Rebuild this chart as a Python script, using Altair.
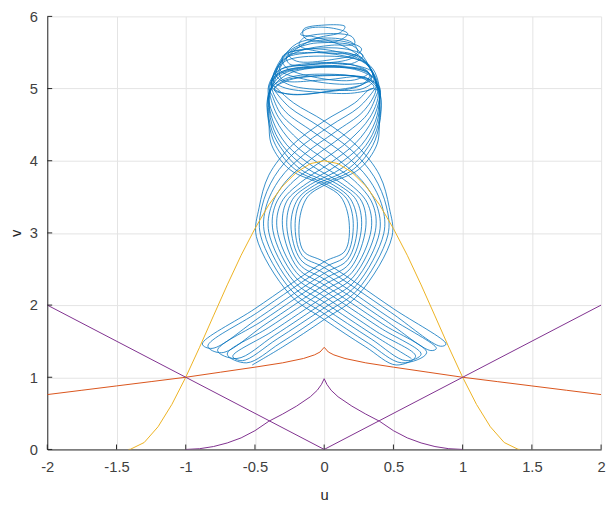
import altair as alt
import pandas as pd

# ---------------- reference curves ----------------
yellow_u = [-1.414, -1.4, -1.3, -1.2, -1.1, -1.0, -0.9, -0.8, -0.7, -0.6, -0.5, -0.4, -0.3, -0.2, -0.1, 0.0,
            0.1, 0.2, 0.3, 0.4, 0.5, 0.6, 0.7, 0.8, 0.9, 1.0, 1.1, 1.2, 1.3, 1.4, 1.414]
yellow_v = [0.0, 0.002, 0.096, 0.314, 0.624, 1.0, 1.416, 1.85, 2.28, 2.69, 3.06, 3.39, 3.65, 3.84, 3.96, 4.0,
            3.96, 3.84, 3.65, 3.39, 3.06, 2.69, 2.28, 1.85, 1.416, 1.0, 0.624, 0.314, 0.096, 0.002, 0.0]

orange_u = [-2.0, -1.75, -1.5, -1.25, -1.0, -0.75, -0.5, -0.3, -0.15, -0.07, -0.03, 0.0,
            0.03, 0.07, 0.15, 0.3, 0.5, 0.75, 1.0, 1.25, 1.5, 1.75, 2.0]
orange_v = [0.76, 0.82, 0.88, 0.94, 1.0, 1.07, 1.14, 1.2, 1.26, 1.31, 1.35, 1.415,
            1.35, 1.31, 1.26, 1.2, 1.14, 1.07, 1.0, 0.94, 0.88, 0.82, 0.76]

vee_left_u = [-2.0, 0.0]
vee_left_v = [2.0, 0.0]
vee_right_u = [0.0, 2.0]
vee_right_v = [0.0, 2.0]

cusp_u = [-1.0, -0.9, -0.8, -0.7, -0.6, -0.5, -0.4, -0.3, -0.2, -0.1, -0.05, -0.02, 0.0,
          0.02, 0.05, 0.1, 0.2, 0.3, 0.4, 0.5, 0.6, 0.7, 0.8, 0.9, 1.0]
cusp_v = [0.0, 0.01, 0.04, 0.09, 0.16, 0.26, 0.39, 0.49, 0.6, 0.73, 0.82, 0.9, 0.98,
          0.9, 0.82, 0.73, 0.6, 0.49, 0.39, 0.26, 0.16, 0.09, 0.04, 0.01, 0.0]

x_ticks = [-2, -1.5, -1, -0.5, 0, 0.5, 1, 1.5, 2]
y_ticks = [0, 1, 2, 3, 4, 5, 6]

# ---------------- blue trajectory, traced piece by piece ----------------
LA0 = [(-0.52,1.17),(-0.3,1.42),(0,1.8),(0.25,2.15),(0.49,2.95),(0.47,3.35),(0.4,3.8),(0.24,4.2),(0.0,4.55),(-0.22,4.8),(-0.34,5.0)]
LA1 = [(-0.56,1.2),(-0.32,1.47),(0,1.88),(0.24,2.21),(0.46,2.97),(0.45,3.36),(0.36,3.78),(0.2,4.14),(-0.04,4.48),(-0.25,4.74),(-0.36,4.98)]
LA2 = [(-0.59,1.23),(-0.34,1.53),(0,1.96),(0.23,2.27),(0.43,2.99),(0.42,3.36),(0.32,3.75),(0.15,4.08),(-0.08,4.4),(-0.28,4.68),(-0.37,4.95)]
LA3 = [(-0.63,1.26),(-0.36,1.58),(0,2.04),(0.22,2.33),(0.4,3.01),(0.38,3.38),(0.27,3.73),(0.09,4.03),(-0.13,4.34),(-0.31,4.64),(-0.38,4.92)]
LA4 = [(-0.66,1.29),(-0.38,1.63),(0,2.12),(0.21,2.39),(0.37,3.03),(0.35,3.4),(0.22,3.72),(0.03,3.98),(-0.18,4.28),(-0.33,4.6),(-0.39,4.9)]
LA5 = [(-0.7,1.32),(-0.4,1.69),(0,2.2),(0.2,2.45),(0.34,3.05),(0.31,3.42),(0.17,3.7),(-0.03,3.95),(-0.23,4.25),(-0.35,4.57),(-0.4,4.87)]
LA6 = [(-0.74,1.34),(-0.42,1.74),(0,2.28),(0.19,2.51),(0.3,3.07),(0.27,3.44),(0.13,3.68),(-0.08,3.92),(-0.27,4.22),(-0.37,4.55),(-0.4,4.85)]
LA7 = [(-0.77,1.37),(-0.44,1.79),(0,2.36),(0.18,2.57),(0.27,3.09),(0.23,3.46),(0.1,3.67),(-0.13,3.9),(-0.3,4.21),(-0.38,4.52),(-0.4,4.83)]
LA8 = [(-0.81,1.4),(-0.46,1.84),(0,2.44),(0.17,2.63),(0.24,3.11),(0.19,3.47),(0.07,3.66),(-0.17,3.88),(-0.32,4.2),(-0.39,4.5),(-0.4,4.82)]
LA9 = [(-0.84,1.43),(-0.48,1.9),(0,2.52),(0.16,2.69),(0.21,3.13),(0.16,3.48),(0.03,3.66),(-0.21,3.88),(-0.35,4.21),(-0.4,4.52),(-0.41,4.84)]
LA10 = [(-0.88,1.46),(-0.5,1.95),(0,2.6),(0.15,2.75),(0.18,3.15),(0.12,3.5),(0,3.66),(-0.25,3.88),(-0.38,4.22),(-0.4,4.55),(-0.41,4.85)]

RA0 = [(0.52,1.17),(0.3,1.42),(0,1.8),(-0.25,2.15),(-0.49,2.95),(-0.47,3.35),(-0.4,3.8),(-0.24,4.2),(0.0,4.55),(0.22,4.8),(0.34,5.0)]
RA1 = [(0.56,1.2),(0.32,1.47),(0,1.88),(-0.24,2.21),(-0.46,2.97),(-0.45,3.36),(-0.36,3.78),(-0.2,4.14),(0.04,4.48),(0.25,4.74),(0.36,4.98)]
RA2 = [(0.59,1.23),(0.34,1.53),(0,1.96),(-0.23,2.27),(-0.43,2.99),(-0.42,3.36),(-0.32,3.75),(-0.15,4.08),(0.08,4.4),(0.28,4.68),(0.37,4.95)]
RA3 = [(0.63,1.26),(0.36,1.58),(0,2.04),(-0.22,2.33),(-0.4,3.01),(-0.38,3.38),(-0.27,3.73),(-0.09,4.03),(0.13,4.34),(0.31,4.64),(0.38,4.92)]
RA4 = [(0.66,1.29),(0.38,1.63),(0,2.12),(-0.21,2.39),(-0.37,3.03),(-0.35,3.4),(-0.22,3.72),(-0.03,3.98),(0.18,4.28),(0.33,4.6),(0.39,4.9)]
RA5 = [(0.7,1.32),(0.4,1.69),(0,2.2),(-0.2,2.45),(-0.34,3.05),(-0.31,3.42),(-0.17,3.7),(0.03,3.95),(0.23,4.25),(0.35,4.57),(0.4,4.87)]
RA6 = [(0.74,1.34),(0.42,1.74),(0,2.28),(-0.19,2.51),(-0.3,3.07),(-0.27,3.44),(-0.13,3.68),(0.08,3.92),(0.27,4.22),(0.37,4.55),(0.4,4.85)]
RA7 = [(0.77,1.37),(0.44,1.79),(0,2.36),(-0.18,2.57),(-0.27,3.09),(-0.23,3.46),(-0.1,3.67),(0.13,3.9),(0.3,4.21),(0.38,4.52),(0.4,4.83)]
RA8 = [(0.81,1.4),(0.46,1.84),(0,2.44),(-0.17,2.63),(-0.24,3.11),(-0.19,3.47),(-0.07,3.66),(0.17,3.88),(0.32,4.2),(0.39,4.5),(0.4,4.82)]
RA9 = [(0.84,1.43),(0.48,1.9),(0,2.52),(-0.16,2.69),(-0.21,3.13),(-0.16,3.48),(-0.03,3.66),(0.21,3.88),(0.35,4.21),(0.4,4.52),(0.41,4.84)]
RA10 = [(0.88,1.46),(0.5,1.95),(0,2.6),(-0.15,2.75),(-0.18,3.15),(-0.12,3.5),(0,3.66),(0.25,3.88),(0.38,4.22),(0.4,4.55),(0.41,4.85)]

T1 = [(-0.38,5.08),(-0.3,5.22),(-0.05,5.3),(0.25,5.25),(0.36,5.12),(0.28,5.0),(0.05,4.98),(-0.25,5.05),(-0.35,5.2),(-0.28,5.38),(0,5.45),(0.27,5.38),(0.36,5.2),(0.4,4.98)]
T2 = [(0.37,5.1),(0.3,5.35),(0.12,5.5),(-0.12,5.55),(-0.26,5.48),(-0.2,5.38),(0.05,5.4),(0.24,5.5),(0.2,5.64),(0,5.7),(-0.2,5.62),(-0.3,5.42),(-0.36,5.15)]
T3 = [(-0.36,5.1),(-0.3,5.35),(-0.2,5.55),(-0.05,5.7),(0.12,5.78),(0.15,5.86),(0,5.88),(-0.15,5.82),(-0.14,5.7),(0.05,5.64),(0.2,5.6),(0.28,5.45),(0.34,5.25),(0.38,5.05)]
T4 = [(0.4,5.02),(0.3,5.15),(0.05,5.18),(-0.25,5.12),(-0.36,5.0),(-0.25,4.92),(0.0,4.95),(0.27,5.05),(0.33,5.2),(0.15,5.3),(-0.15,5.3),(-0.34,5.2),(-0.4,5.0)]
T5 = [(-0.4,5.05),(-0.33,5.25),(-0.1,5.35),(0.2,5.33),(0.32,5.22),(0.22,5.12),(-0.05,5.15),(-0.28,5.3),(-0.3,5.45),(-0.1,5.55),(0.15,5.55),(0.28,5.46),(0.22,5.36),(-0.05,5.3),(-0.3,5.2),(-0.39,4.98)]
T6 = [(-0.38,5.1),(-0.32,5.35),(-0.18,5.52),(0.05,5.6),(0.22,5.62),(0.2,5.72),(0.02,5.76),(-0.15,5.7),(-0.18,5.6),(0.0,5.5),(0.25,5.45),(0.33,5.3),(0.38,5.08)]
T7 = [(0.38,5.05),(0.25,5.16),(-0.05,5.18),(-0.3,5.1),(-0.36,4.98),(-0.22,4.92),(0.05,4.97),(0.3,5.08),(0.35,5.22),(0.2,5.33),(-0.1,5.33),(-0.32,5.25),(-0.3,5.12),(0.0,5.12),(0.3,5.15),(0.39,4.98)]
T8 = [(0.37,5.1),(0.32,5.32),(0.22,5.5),(0.1,5.62),(-0.08,5.72),(-0.17,5.75),(-0.12,5.83),(0.05,5.84),(0.17,5.76),(0.1,5.66),(-0.1,5.62),(-0.24,5.52),(-0.33,5.32),(-0.38,5.05)]
T9 = [(-0.36,5.05),(-0.24,5.22),(0.05,5.3),(0.3,5.25),(0.34,5.12),(0.18,5.06),(-0.12,5.12),(-0.32,5.26),(-0.28,5.42),(-0.05,5.5),(0.2,5.48),(0.32,5.32),(0.38,5.05)]
T10 = [(0.39,5.1),(0.33,5.32),(0.15,5.45),(-0.12,5.5),(-0.27,5.45),(-0.25,5.34),(-0.02,5.35),(0.2,5.42),(0.27,5.55),(0.12,5.66),(-0.12,5.64),(-0.28,5.48),(-0.37,5.18)]
T11 = [(-0.38,5.02),(-0.26,5.15),(0.0,5.2),(0.28,5.14),(0.36,5.02),(0.22,4.94),(-0.05,4.95),(-0.3,5.02),(-0.37,5.12),(-0.28,5.25),(0.0,5.3),(0.28,5.25),(0.37,5.12),(0.39,4.98)]

pieces = [
    LA0, T1, RA5[::-1],
    RA2, T2, LA8[::-1],
    LA10, T3, RA1[::-1],
    RA6, T4, LA3[::-1],
    LA7, T5, LA4[::-1],
    LA2, T6, RA9[::-1],
    RA10, T7, RA0[::-1],
    RA4, T8, LA1[::-1],
    LA5, T9, RA7[::-1],
    RA8, T10, LA6[::-1],
    LA9, T11, RA3[::-1],
]
blue_pts = [p for piece in pieces for p in piece]
blue = pd.DataFrame({"u": [p[0] for p in blue_pts], "v": [p[1] for p in blue_pts],
                     "i": list(range(len(blue_pts)))})

def frame(us, vs):
    return pd.DataFrame({"u": us, "v": vs, "i": list(range(len(us)))})

FONT = "Liberation Sans"
W, H = 564, 441
xs = alt.Scale(domain=[-2, 2], nice=False, zero=False)
ys = alt.Scale(domain=[0, 6], nice=False, zero=False)

LBL = "datum.value + ''"
xaxis = alt.Axis(values=x_ticks, title="u", grid=True, ticks=False, labelPadding=10,
                 labelExpr=LBL, titleX=282, titleY=46, titleBaseline="middle")
yaxis = alt.Axis(values=y_ticks, title="v", grid=True, ticks=False, labelPadding=10,
                 labelExpr=LBL, titleX=-32, titleY=H / 2, titleBaseline="middle", titleAngle=-90)

base = alt.Chart(blue).mark_line(interpolate="catmull-rom", color="#0072BD", strokeWidth=0.8, clip=True).encode(
    x=alt.X("u:Q", scale=xs, axis=xaxis),
    y=alt.Y("v:Q", scale=ys, axis=yaxis),
    order="i:Q",
)

def curve(df, color, width=1.0):
    return alt.Chart(df).mark_line(color=color, strokeWidth=width, clip=True).encode(
        x=alt.X("u:Q", scale=xs), y=alt.Y("v:Q", scale=ys), order="i:Q")

xt = alt.Chart(pd.DataFrame({"t": x_ticks})).mark_rule(color="#262626", strokeWidth=1).encode(
    x=alt.X("t:Q", scale=xs), y=alt.value(H), y2=alt.value(H - 5))
yt = alt.Chart(pd.DataFrame({"t": y_ticks})).mark_rule(color="#262626", strokeWidth=1).encode(
    y=alt.Y("t:Q", scale=ys), x=alt.value(0), x2=alt.value(5))

layers = [
    base,
    curve(frame(orange_u, orange_v), "#D95319"),
    curve(frame(yellow_u, yellow_v), "#EDB120"),
    curve(frame(vee_left_u, vee_left_v), "#7E2F8E"),
    curve(frame(vee_right_u, vee_right_v), "#7E2F8E"),
    curve(frame(cusp_u, cusp_v), "#7E2F8E"),
    xt, yt,
]

chart = alt.layer(*layers).properties(
    width=W, height=H,
    autosize=alt.AutoSizeParams(type="none"),
    padding={"left": 40, "top": 4, "right": 6, "bottom": 50},
).configure_view(stroke=None).configure_axis(
    labelFont=FONT, titleFont=FONT, labelFontSize=15, titleFontSize=15,
    labelColor="#404040", titleColor="#262626", titleFontWeight="normal",
    domainColor="#262626", domainWidth=1, gridColor="#e3e3e3", gridWidth=1,
    labelFlush=False,
)

chart.save("out.html", embed_options={"renderer": "svg", "actions": False})
